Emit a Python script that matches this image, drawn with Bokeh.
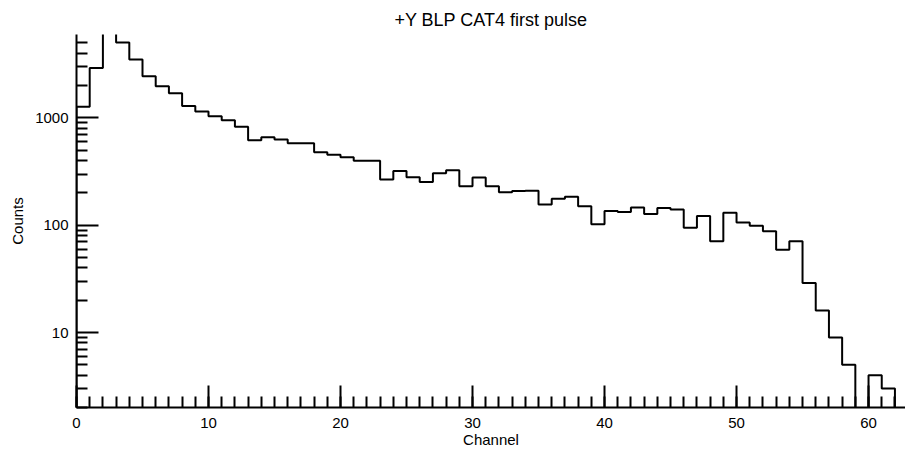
from bokeh.plotting import figure
from bokeh.models import Range1d, FixedTicker, PrintfTickFormatter, Title
from bokeh.embed import file_html
from bokeh.resources import INLINE

# ---- data ----
channels = list(range(63))
counts = [1270, 2920, 8000, 5050, 3500, 2450, 1980, 1700, 1290, 1150,
          1040, 950, 830, 620, 660, 630, 580, 580, 480, 455,
          430, 400, 400, 267, 320, 280, 253, 305, 325, 231,
          278, 231, 203, 209, 210, 156, 177, 184, 150, 102,
          136, 133, 146, 127, 145, 140, 95, 122, 71, 131,
          106, 99, 88, 59, 71, 29, 16, 9, 5, 0,
          4, 3, 0]

title_text = "+Y BLP CAT4 first pulse"
x_label = "Channel"
y_label = "Counts"
x_major = [0, 10, 20, 30, 40, 50, 60]
x_minor = list(range(0, 63))
y_major = [10, 100, 1000]
y_minor = ([m for m in range(2, 10)] + [m * 10 for m in range(2, 10)]
           + [m * 100 for m in range(2, 10)] + [m * 1000 for m in range(2, 6)])

# empty bins are drawn down below the axis (log scale cannot show 0)
FLOOR = 0.5
xs = [0]
ys = [FLOOR]
for ch, c in zip(channels, counts):
    v = max(c, FLOOR)
    xs += [ch, ch + 1]
    ys += [v, v]
xs.append(channels[-1] + 1)
ys.append(FLOOR)

FONT = "Liberation Sans"

p = figure(width=905, height=455, y_axis_type="log",
           x_range=Range1d(0, 62.8), y_range=Range1d(2, 6000),
           output_backend="svg", toolbar_location=None,
           min_border_left=76, min_border_right=0,
           min_border_top=34, min_border_bottom=48)

p.title = Title(text=title_text, align="center", text_font=FONT,
                text_font_size="18px", text_font_style="normal",
                text_color="black", standoff=10)

p.line(xs, ys, line_color="black", line_width=2)

p.xaxis.ticker = FixedTicker(ticks=x_major, minor_ticks=x_minor)
p.yaxis.ticker = FixedTicker(ticks=y_major, minor_ticks=y_minor)
p.yaxis.formatter = PrintfTickFormatter(format="%d")
p.xaxis.axis_label = x_label
p.yaxis.axis_label = y_label

for ax in (p.xaxis[0], p.yaxis[0]):
    ax.axis_line_width = 2
    ax.axis_line_color = "black"
    ax.major_tick_line_width = 2
    ax.minor_tick_line_width = 2
    ax.major_tick_line_color = "black"
    ax.minor_tick_line_color = "black"
    ax.major_tick_in = 22
    ax.major_tick_out = 0
    ax.minor_tick_in = 11
    ax.minor_tick_out = 0
    ax.major_label_text_font = FONT
    ax.major_label_text_font_size = "15px"
    ax.major_label_text_color = "black"
    ax.axis_label_text_font = FONT
    ax.axis_label_text_font_size = "15px"
    ax.axis_label_text_font_style = "normal"
    ax.axis_label_text_color = "black"

p.xaxis.major_label_standoff = 10
p.xaxis.axis_label_standoff = 0
p.yaxis.major_label_standoff = 8
p.yaxis.axis_label_standoff = 6

p.grid.visible = False
p.outline_line_color = None
p.background_fill_color = "white"
p.border_fill_color = "white"

open("out.html", "w").write(file_html(p, INLINE))
